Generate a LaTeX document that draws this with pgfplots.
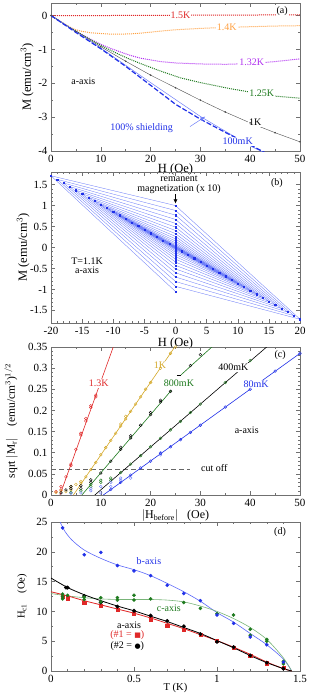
\documentclass[border=0pt]{standalone}
\usepackage{fontspec}
\setmainfont{Liberation Serif}
\newfontfamily\symfont{DejaVu Sans}
\usepackage{pgfplots}
\pgfplotsset{compat=1.18}
\usetikzlibrary{arrows.meta}

\definecolor{cred}{HTML}{E02828}
\definecolor{corange}{HTML}{FFA040}
\definecolor{cpurple}{HTML}{B030F0}
\definecolor{cgreen}{HTML}{1E7A1E}
\definecolor{cblue}{HTML}{2030E8}
\definecolor{clblue}{HTML}{7080F8}
\definecolor{cgold}{HTML}{D4A828}
\definecolor{lgreen}{HTML}{78B478}
\definecolor{frame}{HTML}{707070}

\pgfplotsset{
  every axis/.append style={
    scale only axis, width=249pt,
    tick align=inside,
    axis line style={frame, line width=0.6pt},
    tick style={frame, line width=0.5pt},
    major tick length=4pt, minor tick length=2pt,
    tick label style={font=\fontsize{11}{11}\selectfont},
    label style={font=\fontsize{12.5}{13}\selectfont},
    /pgf/number format/assume math mode=true,
    xticklabel style={yshift=-1pt},
  }
}
\newcommand{\ann}{\fontsize{10}{10.5}\selectfont}

\begin{document}
\begin{tikzpicture}
\path[use as bounding box] (0,0) rectangle (311pt,-697pt);

% ---------------- (a)
\begin{axis}[at={(51pt,-3pt)}, anchor=north west, height=148pt,
  xmin=0, xmax=50, ymin=-4, ymax=0.37,
  xtick={0,10,...,50}, ytick={-4,-3,...,0},
  minor x tick num=1, minor y tick num=1,
  xlabel={H (Oe)}, ylabel={M (emu/cm$^3$)},
  xlabel style={at={(axis description cs:0.5,-0.125)},anchor=center},
  ylabel style={at={(axis description cs:-0.096,0.5)},anchor=center}]
\addplot[cred, densely dotted, line width=1pt] coordinates {(0,0)(10,0)(20,0.005)(30,0.01)(40,0.015)(50,0.02)};
\addplot[corange, densely dotted, line width=1pt] coordinates {(0,0)(2,-0.19)(4,-0.36)(5,-0.42)(6,-0.46)(8,-0.51)(10,-0.53)(12,-0.55)(14,-0.55)(16,-0.54)(18,-0.52)(20,-0.49)(22,-0.46)(25,-0.42)(30,-0.38)(35,-0.35)(40,-0.33)(45,-0.31)(50,-0.30)};
\addplot[cpurple, densely dotted, line width=1pt] coordinates {(0,0)(2,-0.19)(4,-0.37)(6,-0.54)(8,-0.70)(10,-0.85)(12,-0.97)(14,-1.08)(16,-1.18)(18,-1.26)(20,-1.31)(22,-1.36)(25,-1.40)(30,-1.43)(35,-1.44)(40,-1.42)(45,-1.36)(50,-1.28)};
\addplot[cgreen, densely dotted, line width=1pt] coordinates {(0,0)(2,-0.19)(4,-0.37)(6,-0.55)(8,-0.72)(10,-0.88)(12,-1.03)(14,-1.17)(16,-1.30)(18,-1.42)(20,-1.53)(22,-1.64)(24,-1.74)(26,-1.84)(28,-1.91)(30,-1.98)(33,-2.07)(36,-2.16)(40,-2.26)(45,-2.38)(50,-2.44)};
\addplot[black!70, line width=0.4pt, mark=*, mark size=0.6pt] coordinates {(0,0)(5,-0.47)(10,-0.92)(15,-1.35)(20,-1.76)(25,-2.13)(30,-2.50)(35,-2.85)(40,-3.17)(45,-3.46)(50,-3.73)};
\addplot[clblue, line width=0.5pt] coordinates {(0,0)(10,-0.96)(20,-1.98)(30,-2.98)(40,-3.85)(43.5,-4.1)};
\addplot[cblue, dashed, line width=1.2pt, dash pattern=on 5pt off 2pt] coordinates {(0,0)(5,-0.5)(10,-0.98)(15,-1.5)(20,-2.06)(25,-2.62)(30,-3.06)(35,-3.45)(40,-3.82)(43,-4.05)};
\node[fill=white, inner sep=1pt, text=cred, font=\ann] at (axis cs:26,0) {1.5K};
\node[fill=white, inner sep=1pt, text=corange, font=\ann] at (axis cs:35.3,-0.36) {1.4K};
\node[fill=white, inner sep=1pt, text=cpurple, font=\ann] at (axis cs:40.3,-1.38) {1.32K};
\node[fill=white, inner sep=1pt, text=cgreen, font=\ann] at (axis cs:42.3,-2.3) {1.25K};
\node[fill=white, inner sep=1pt, text=black, font=\ann] at (axis cs:41,-3.16) {1K};
\node[fill=white, inner sep=1pt, text=cblue, font=\ann] at (axis cs:37.5,-3.72) {100mK};
\node[text=cblue, font=\ann] at (axis cs:18.2,-3.32) {100\% shielding};
\node[font=\ann] at (axis cs:6.5,-1.93) {a-axis};
\node[fill=white, inner sep=1pt, font=\ann] at (axis cs:46.4,0.12) {(a)};
\draw[clblue, -{Latex[length=5pt,width=4pt]}, line width=0.5pt] (axis cs:27.9,-3.28) -- (axis cs:31,-2.98);
\end{axis}

% ---------------- (b)
\begin{axis}[at={(51pt,-172pt)}, anchor=north west, height=151pt,
  xmin=-20, xmax=20, ymin=-1.8, ymax=1.8,
  xtick={-20,-15,...,20}, ytick={-1.5,-1,...,1.5},
  minor x tick num=4, minor y tick num=4,
  xlabel={H (Oe)}, ylabel={M (emu/cm$^3$)},
  xlabel style={at={(axis description cs:0.5,-0.137)},anchor=center},
  ylabel style={at={(axis description cs:-0.112,0.5)},anchor=center}]
\addplot[clblue, line width=0.35pt, mark=square*, mark size=0.6pt, mark options={draw=cblue, fill=cblue}] coordinates {
(1,-0.0855)(0,0)(-1,0.0855)(0,0)(2,-0.171)(0,0)(-2,0.171)(0,0)(3,-0.2565)(0,0)(-3,0.2565)(0,0)
(4,-0.342)(0,0.001)(-4,0.342)(0,-0.001)(5,-0.4275)(0,0.008)(-5,0.4275)(0,-0.009)
(6,-0.513)(0,0.023)(-6,0.513)(0,-0.024)(7,-0.5985)(0,0.045)(-7,0.5985)(0,-0.047)
(8,-0.684)(0,0.074)(-8,0.684)(0,-0.078)(9,-0.7695)(0,0.111)(-9,0.7695)(0,-0.117)
(10,-0.855)(0,0.155)(-10,0.855)(0,-0.163)(11,-0.9405)(0,0.207)(-11,0.9405)(0,-0.217)
(12,-1.026)(0,0.265)(-12,1.026)(0,-0.278)(13,-1.1115)(0,0.331)(-13,1.1115)(0,-0.348)
(14,-1.197)(0,0.405)(-14,1.197)(0,-0.425)(15,-1.2825)(0,0.486)(-15,1.2825)(0,-0.510)
(16,-1.368)(0,0.574)(-16,1.368)(0,-0.603)(17,-1.4535)(0,0.669)(-17,1.4535)(0,-0.703)
(18,-1.539)(0,0.772)(-18,1.539)(0,-0.811)(19,-1.6245)(0,0.882)(-19,1.6245)(0,-0.926)
(20,-1.71)(0,1.0)(-20,1.71)(0,-1.05)};
\node[font=\ann, align=center] at (axis cs:0.56,1.5) {remanent\\[-1pt]magnetization (x 10)};
\draw[-{Latex[length=4pt,width=4pt]}, line width=0.5pt] (axis cs:0,1.27) -- (axis cs:0,1.05);
\node[font=\ann, align=center] at (axis cs:-14.2,-0.43) {T=1.1K\\[-1pt]a-axis};
\node[font=\ann] at (axis cs:16.3,1.54) {(b)};
\end{axis}

% ---------------- (c)
\begin{axis}[at={(51pt,-347pt)}, anchor=north west, height=148pt,
  xmin=0, xmax=50, ymin=0, ymax=0.35,
  xtick={0,10,...,50}, ytick={0,0.05,...,0.35},
  minor x tick num=1, minor y tick num=4,
  yticklabel style={/pgf/number format/fixed},
  xlabel={$|$H\textsubscript{before}$|$\ \ \ (Oe)},
  ylabel={sqrt $|$M\textsubscript{r}$|$\quad(emu/cm$^3$)$^{1/2}$},
  xlabel style={at={(axis description cs:0.5,-0.14)},anchor=center, font=\fontsize{12}{12}\selectfont},
  ylabel style={at={(axis description cs:-0.16,0.5)},anchor=center, font=\fontsize{11.5}{12}\selectfont}]
% cut off
\addplot[black!60, dashed, line width=0.9pt, dash pattern=on 5pt off 3pt] coordinates {(0,0.06)(28,0.06)};
% fits
\addplot[cred, line width=0.6pt] coordinates {(1.8,0)(12.5,0.35)};
\addplot[cgold, line width=0.6pt] coordinates {(4.5,0)(24.85,0.35)};
\addplot[cgreen, line width=0.6pt] coordinates {(6.2,0)(24.2,0.248)};
\addplot[cgreen, line width=0.6pt] coordinates {(26.1,0.284)(32.3,0.35)};
\addplot[black, line width=0.6pt] coordinates {(25.3,0.283)(26.1,0.283)};
\addplot[black, line width=0.6pt] coordinates {(8.8,0)(43.3,0.35)};
\addplot[cblue, line width=0.6pt] coordinates {(10.5,0)(50,0.335)};
% points
\addplot[only marks, mark=o, mark size=1.4pt, cred] coordinates {(1,0.008)(2,0.012)(2,0.02)(3,0.043)(4,0.07)(4,0.073)(5,0.108)(6,0.142)(6,0.146)(7,0.175)(7,0.181)(8,0.207)(8,0.211)(9,0.232)(9,0.236)};
\addplot[only marks, mark=o, mark size=1.4pt, cgold] coordinates {(1,0.006)(2,0.01)(3,0.008)(4,0.012)(4,0.02)(5,0.025)(6,0.028)(6,0.032)(7,0.043)(8,0.06)(9,0.077)(10,0.095)(11,0.112)(12,0.129)(13,0.146)(14,0.163)(14,0.168)(15,0.18)(15,0.186)(16,0.198)(17,0.215)(18,0.232)(19,0.25)(20,0.266)(22,0.3)(24,0.335)(25,0.35)};
\addplot[only marks, mark=o, mark size=1.4pt, black] coordinates {(2,0.005)(3,0.012)(4,0.015)(4,0.02)(6,0.015)(6,0.022)(8,0.03)(8,0.036)(10,0.052)(12,0.08)(14,0.108)(14,0.113)(16,0.135)(16,0.14)(18,0.165)(20,0.19)(20,0.195)(22,0.22)(22,0.224)(24,0.245)(28,0.306)(30,0.332)};
\addplot[only marks, mark=o, mark size=1.4pt, cgreen] coordinates {(4,0.006)(6,0.01)(8,0.02)(8,0.025)(10,0.03)(10,0.035)(12,0.035)(12,0.04)(14,0.053)(16,0.073)(18,0.093)(20,0.114)(22,0.134)(24,0.154)(26,0.174)(28,0.195)(30,0.215)(35,0.266)(40,0.318)};
\addplot[only marks, mark=o, mark size=1.4pt, clblue] coordinates {(4,0.004)(6,0.005)(8,0.01)(8,0.015)(10,0.005)(10,0.02)(12,0.02)(12,0.03)(14,0.035)(14,0.04)(16,0.04)(22,0.095)(22,0.1)};
\addplot[only marks, mark=o, mark size=1.4pt, cblue] coordinates {(12,0.013)(14,0.03)(16,0.047)(18,0.064)(20,0.08)(22,0.098)(24,0.114)(26,0.131)(28,0.148)(30,0.165)(35,0.208)(40,0.25)(45,0.293)(50,0.335)};
\node[fill=white, inner sep=1pt, text=cred, font=\ann] at (axis cs:9.6,0.264) {1.3K};
\node[fill=white, inner sep=1pt, text=cgold, font=\ann] at (axis cs:21.9,0.307) {1K};
\node[fill=white, inner sep=1pt, text=cgreen, font=\ann] at (axis cs:25.7,0.264) {800mK};
\node[fill=white, inner sep=1pt, text=black, font=\ann] at (axis cs:36.6,0.302) {400mK};
\node[fill=white, inner sep=1pt, text=cblue, font=\ann] at (axis cs:41.2,0.262) {80mK};
\node[font=\ann] at (axis cs:39.3,0.152) {a-axis};
\node[font=\ann] at (axis cs:32.8,0.063) {cut off};
\node[font=\ann] at (axis cs:46,0.331) {(c)};
\end{axis}

% ---------------- (d)
\begin{axis}[at={(51pt,-522pt)}, anchor=north west, height=149pt,
  xmin=0, xmax=1.5, ymin=0, ymax=25,
  xtick={0,0.5,1,1.5}, ytick={0,5,...,25},
  minor x tick num=4, minor y tick num=1,
  xlabel={T (K)}, ylabel={H\textsubscript{c1}\quad(Oe)},
  label style={font=\fontsize{10.5}{11}\selectfont},
  xlabel style={at={(axis description cs:0.5,-0.114)},anchor=center},
  ylabel style={at={(axis description cs:-0.116,0.5)},anchor=center}]
\addplot[clblue!80!blue, smooth, line width=0.6pt] coordinates {(0.05,25.3)(0.08,23.6)(0.125,22.0)(0.2,20.3)(0.3,18.9)(0.4,17.8)(0.5,17.0)(0.6,16.0)(0.7,14.7)(0.8,13.3)(0.9,11.7)(1.0,9.8)(1.1,8.2)(1.2,6.3)(1.3,4.4)(1.4,2.0)(1.45,0)};
\addplot[lgreen, smooth, line width=0.6pt] coordinates {(0,13.0)(0.1,12.6)(0.2,12.3)(0.3,12.1)(0.4,12.0)(0.5,12.0)(0.6,12.0)(0.7,11.9)(0.8,11.6)(0.9,10.9)(1.0,10.0)(1.1,8.8)(1.2,7.3)(1.3,5.3)(1.4,2.2)(1.45,0)};
\addplot[cred, smooth, line width=0.8pt] coordinates {(0,13.3)(0.1,12.6)(0.2,11.8)(0.3,11.1)(0.4,10.4)(0.5,9.7)(0.6,8.9)(0.7,8.0)(0.8,7.1)(0.9,6.1)(1.0,5.1)(1.1,4.0)(1.2,2.8)(1.3,1.5)(1.4,0.4)(1.45,0)};
\addplot[black, smooth, line width=0.8pt] coordinates {(0,15.6)(0.1,14.0)(0.2,12.8)(0.3,11.8)(0.4,10.9)(0.5,10.1)(0.6,9.2)(0.7,8.3)(0.8,7.3)(0.9,6.3)(1.0,5.1)(1.1,3.9)(1.2,2.6)(1.3,1.4)(1.4,0.4)(1.45,0)};
\addplot[only marks, mark=square*, mark size=1.6pt, cred] coordinates {(0.07,12.5)(0.1,12.2)(0.2,11.5)(0.3,11.0)(0.4,10.3)(0.5,9.6)(0.6,8.7)(0.7,7.6)(0.8,6.9)(0.9,6.1)(1.0,5.1)(1.1,3.9)(1.2,2.6)(1.3,1.3)(1.4,0.6)};
\addplot[only marks, mark=*, mark size=1.8pt, black] coordinates {(0.09,14.0)(0.1,14.0)(0.2,12.6)(0.3,11.5)(0.4,10.8)(0.5,10.1)(0.6,9.3)(0.7,8.4)(0.8,7.5)(0.9,6.2)(1.0,4.9)(1.1,4.0)(1.2,2.6)(1.3,1.4)(1.4,0.4)};
\addplot[only marks, mark=*, mark size=1.6pt, cgreen] coordinates {(0.07,12.9)(0.07,12.5)(0.07,12.1)(0.1,12.7)(0.2,12.4)(0.2,12.0)(0.3,12.3)(0.3,11.6)(0.4,12.3)(0.4,11.9)(0.5,12.7)(0.5,11.9)(0.6,12.1)(0.8,11.5)(0.9,10.5)(1.0,9.6)(1.1,9.4)(1.2,7.0)(1.2,6.0)(1.3,5.3)(1.3,5.0)(1.4,1.2)(1.4,1.6)};
\addplot[only marks, mark=*, mark size=1.6pt, cblue] coordinates {(0.07,24.0)(0.2,19.5)(0.3,19.9)(0.4,17.7)(0.5,16.8)(0.6,16.0)(0.7,14.4)(0.8,13.0)(0.9,11.8)(1.0,9.4)(1.1,8.0)(1.2,5.7)(1.3,4.4)(1.4,1.5)};
\node[text=cblue, font=\ann] at (axis cs:0.59,18.4) {b-axis};
\node[fill=white, inner sep=1pt, text=cgreen, font=\ann] at (axis cs:0.71,10.5) {c-axis};
\node[font=\ann, inner sep=0pt] at (axis cs:0.47,7.6) {a-axis};
\node[text=cred, font=\ann, inner sep=0pt] at (axis cs:0.46,6.0) {(\#1 = {\symfont\fontsize{7}{7}\selectfont ■})};
\node[font=\ann, inner sep=0pt] at (axis cs:0.46,4.1) {(\#2 = {\symfont\fontsize{7}{7}\selectfont ●})};
\node[font=\ann] at (axis cs:1.38,23.3) {(d)};
\end{axis}
\end{tikzpicture}
\end{document}
